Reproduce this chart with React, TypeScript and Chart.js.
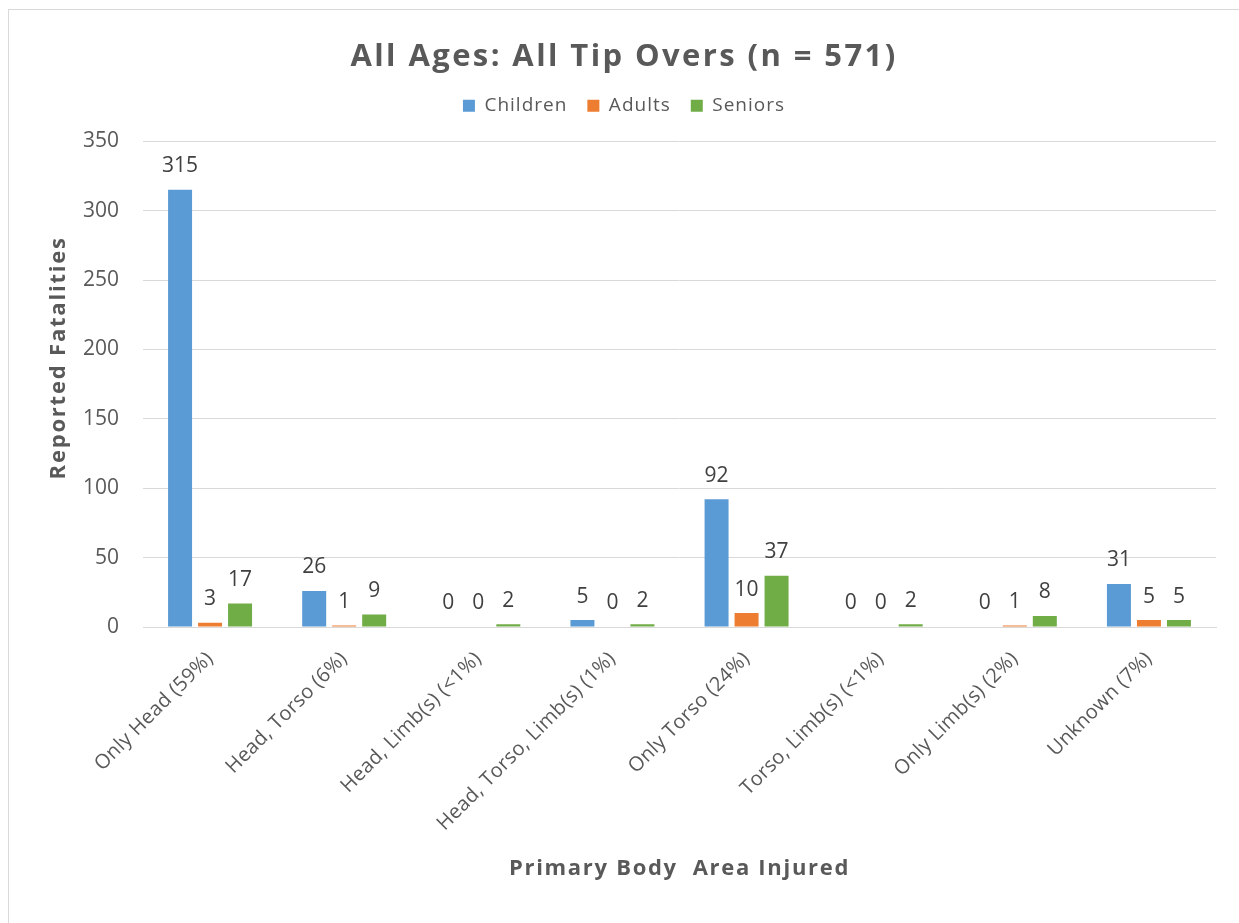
import React, { useEffect, useRef } from "react";
import { Chart, registerables } from "chart.js";

Chart.register(...registerables);

const categories = [
  "Only Head (59%)",
  "Head, Torso (6%)",
  "Head, Limb(s) (<1%)",
  "Head, Torso, Limb(s) (1%)",
  "Only Torso (24%)",
  "Torso, Limb(s) (<1%)",
  "Only Limb(s) (2%)",
  "Unknown (7%)",
];
const children = [315, 26, 0, 5, 92, 0, 0, 31];
const adults = [3, 1, 0, 0, 10, 0, 1, 5];
const seniors = [17, 9, 2, 2, 37, 2, 8, 5];
const yTicks = [0, 50, 100, 150, 200, 250, 300, 350];

const FONT = "'Open Sans', 'Noto Sans', sans-serif";
const TEXT = "#595959";

function wrapSpacing(obj: any, method: string, spacing: string) {
  const orig = obj[method];
  if (!orig || orig.__spaced) return;
  const f = function (this: any, ...args: any[]) {
    const ctx = this.ctx;
    const prev = ctx.letterSpacing;
    ctx.letterSpacing = spacing;
    try {
      return orig.apply(this, args);
    } finally {
      ctx.letterSpacing = prev;
    }
  };
  (f as any).__spaced = true;
  obj[method] = f;
}

const dataLabels = {
  id: "dataLabels",
  afterDatasetsDraw(chart: any) {
    const ctx = chart.ctx;
    ctx.save();
    ctx.font = `21px ${FONT}`;
    ctx.fillStyle = "#404040";
    ctx.textAlign = "center";
    ctx.textBaseline = "middle";
    chart.data.datasets.forEach((ds: any, i: number) => {
      const meta = chart.getDatasetMeta(i);
      meta.data.forEach((el: any, j: number) => {
        ctx.fillText(String(ds.data[j]), el.x, el.y - 23.5);
      });
    });
    ctx.restore();
  },
};

const textTweaks = {
  id: "textTweaks",
  afterInit(chart: any) {
    const legend = chart.legend;
    if (legend) {
      wrapSpacing(legend, "fit", "1px");
      wrapSpacing(legend, "draw", "1px");
      const fit = legend.fit;
      legend.fit = function (this: any) {
        fit.call(this);
        this.height += 16;
      };
    }
    if (chart.titleBlock) wrapSpacing(chart.titleBlock, "draw", "2.4px");
  },
};

export default function App() {
  const ref = useRef<HTMLCanvasElement>(null);
  useEffect(() => {
    document.documentElement.style.overflow = "hidden";
    document.body.style.overflow = "hidden";
    const chart = new Chart(ref.current!, {
      type: "bar",
      data: {
        labels: categories,
        datasets: [
          { label: "Children", data: children, backgroundColor: "#5B9BD5" },
          { label: "Adults", data: adults, backgroundColor: "#ED7D31" },
          { label: "Seniors", data: seniors, backgroundColor: "#70AD47" },
        ],
      },
      options: {
        responsive: false,
        animation: false,
        layout: { padding: 0 },
        datasets: {
          bar: { categoryPercentage: 0.671, barPercentage: 0.8 },
        },
        plugins: {
          title: {
            display: true,
            text: "All Ages: All Tip Overs (n = 571)",
            color: TEXT,
            font: { family: FONT, size: 31, weight: "bold" },
            padding: { top: 29, bottom: 0 },
          },
          legend: {
            display: true,
            labels: {
              boxWidth: 12,
              boxHeight: 12,
              padding: 20,
              color: TEXT,
              font: { family: FONT, size: 19 },
            },
          },
          tooltip: { enabled: false },
        },
        scales: {
          x: {
            grid: { display: false, drawTicks: false },
            border: { display: true, color: "#D9D9D9", width: 1 },
            ticks: {
              color: TEXT,
              font: { family: FONT, size: 20 },
              minRotation: 45,
              maxRotation: 45,
              padding: 20,
            },
            title: {
              display: true,
              text: "Primary Body  Area Injured",
              color: TEXT,
              font: { family: FONT, size: 22, weight: "bold" },
              padding: { top: 4, bottom: 41 },
            },
            afterFit(scale: any) {
              scale.height = 296;
              wrapSpacing(scale, "drawLabels", "0.3px");
              wrapSpacing(scale, "drawTitle", "1.7px");
            },
          },
          y: {
            min: 0,
            max: 350,
            afterBuildTicks(scale: any) {
              scale.ticks = yTicks.map((v) => ({ value: v }));
            },
            grid: { color: "#D9D9D9", drawTicks: false },
            border: { display: false },
            ticks: {
              color: TEXT,
              font: { family: FONT, size: 21 },
              padding: 24,
            },
            title: {
              display: true,
              text: "       Reported Fatalities",
              color: TEXT,
              font: { family: FONT, size: 22, weight: "bold" },
              padding: { top: 37, bottom: 4 },
            },
            afterFit(scale: any) {
              scale.width = 134;
              wrapSpacing(scale, "drawTitle", "1.8px");
            },
          },
          yRight: {
            type: "linear",
            position: "right",
            min: 0,
            max: 350,
            grid: { display: false, drawTicks: false },
            border: { display: false },
            ticks: { display: false },
            afterFit(scale: any) {
              scale.width = 23;
            },
          },
        },
      },
      plugins: [dataLabels, textTweaks],
    });
    return () => chart.destroy();
  }, []);
  return (
    <div
      style={{
        position: "absolute",
        left: 8,
        top: 9,
        width: 1240,
        height: 914,
        borderLeft: "1px solid #D9D9D9",
        borderTop: "1px solid #D9D9D9",
      }}
    >
      <canvas ref={ref} width={1230} height={913} style={{ display: "block" }} />
    </div>
  );
}
